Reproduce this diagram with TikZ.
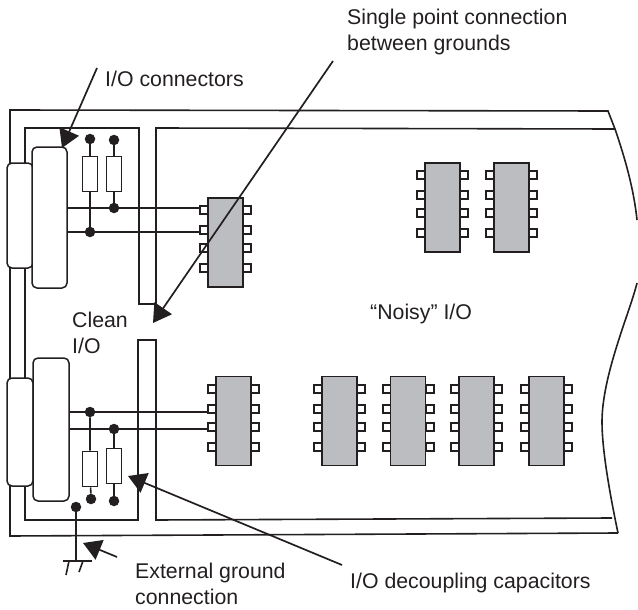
\documentclass[tikz,border=0pt]{standalone}
\usepackage{fontspec}
\setmainfont{Liberation Sans}
\usepackage{xcolor}
\usepackage{tikz}
\usetikzlibrary{arrows.meta, positioning, calc}
\definecolor{inkblack}{RGB}{35, 31, 32}
\definecolor{chipgray}{RGB}{187,189,192}

\begin{document}
\begin{tikzpicture}[
    x=1pt, y=-1pt,
    wire/.style={draw=inkblack, line width=1.6pt},
    pointer/.style={draw=inkblack, line width=1.7pt,
                    -{Triangle[length=18pt, width=21pt, fill=inkblack]}},
    chip/.style={rectangle, draw=inkblack, fill=chipgray, line width=1.9pt,
                 minimum width=35pt, minimum height=89pt, inner sep=0pt},
    pin/.style={rectangle, draw=inkblack, fill=white, line width=2pt,
                minimum size=8pt, inner sep=0pt},
    resistor/.style={rectangle, draw=inkblack, fill=white, line width=1.6pt,
                     minimum width=15pt, minimum height=35pt, inner sep=0pt},
    joint/.style={circle, fill=inkblack, minimum size=10.5pt, inner sep=0pt},
    plugbox/.style={rectangle, rounded corners=5pt, draw=inkblack, fill=white,
                    line width=1.5pt, inner sep=0pt},
    label/.style={font=\fontsize{21.3}{26}\selectfont, color=inkblack,
                  align=left, inner sep=0pt, anchor=north west},
]
\useasboundingbox (0,0) rectangle (638,610);

\draw[wire] (615,129) -- (608,111) -- (10,110) -- (10,536) -- (618,533);
\draw[wire] (615,129) .. controls (625,158) and (634,190) .. (637,220);
\draw[wire] (637,283) .. controls (630,312) and (602,375) .. (602,422)
                      .. controls (602,450) and (610,495) .. (618,533);
\draw[wire] (615,129) -- (156,128) -- (156,304) -- (139,304) -- (139,128)
            -- (25,128) -- (25,520) -- (138,520) -- (138,340) -- (156,340)
            -- (156,520) -- (612,518);

\node[plugbox, minimum width=26pt, minimum height=105pt] (plugAout) at (20,215.5) {};
\node[plugbox, minimum width=35pt, minimum height=141pt] (plugA) at (49.5,217.5) {};
\node[plugbox, minimum width=26pt, minimum height=108pt] (plugBout) at (20,432) {};
\node[plugbox, minimum width=36pt, minimum height=143pt] (plugB) at (51,429.5) {};

\foreach \chipname/\cx/\cy in {chipA/225.5/242.5, chipB/233.5/421, chipC/339.5/421,
    chipD/408/421, chipE/476.5/421, chipF/546.5/421, chipG/442.5/207.5, chipH/511.5/207.5} {
  \foreach \n/\dy in {1/-32.5, 2/-12.5, 3/5.5, 4/25.5} {
    \node[pin] (\chipname-l\n) at (\cx-21.5,\cy+\dy) {};
    \node[pin] (\chipname-r\n) at (\cx+21.5,\cy+\dy) {};
  }
  \node[chip] (\chipname) at (\cx,\cy) {};
}

\node[joint] (dotA1) at (90,139) {};
\node[joint] (dotA2) at (114,140) {};
\node[resistor] (resA1) at (90,174) {};
\node[resistor] (resA2) at (114,174) {};
\node[joint] (dotA3) at (90,232) {};
\node[joint] (dotA4) at (114,208) {};
\draw[wire] (dotA1) -- (resA1) (resA1) -- (dotA3);
\draw[wire] (dotA2) -- (resA2) (resA2) -- (dotA4);
\draw[wire] (plugA.east |- dotA4) -- (dotA4) -- (dotA4 -| chipA-l1.west);
\draw[wire] (plugA.east |- dotA3) -- (dotA3) -- (dotA3 -| chipA-l2.west);

\node[joint] (dotB1) at (90,412) {};
\node[joint] (dotB2) at (114,429) {};
\node[resistor] (resB1) at (90,469) {};
\node[resistor] (resB2) at (114,466) {};
\node[joint] (dotB3) at (91,499) {};
\node[joint] (dotB4) at (114,501) {};
\draw[wire] (dotB1) -- (resB1) (resB1) -- (dotB3);
\draw[wire] (dotB2) -- (resB2) (resB2) -- (dotB4);
\draw[wire] (plugB.east |- dotB1) -- (dotB1) -- (dotB1 -| chipB-l2.west);
\draw[wire] (plugB.east |- dotB2) -- (dotB2) -- (dotB2 -| chipB-l3.west);

\node[joint] (dotgnd) at (76,507) {};
\coordinate (gndbar) at (76,561);
\coordinate (gndleft) at (63,561);
\coordinate (gndright) at (92,561);
\coordinate (tickAtop) at (69,561);
\coordinate (tickAend) at (66,575);
\coordinate (tickBtop) at (83,561);
\coordinate (tickBend) at (79,572);
\draw[wire] (dotgnd) -- (gndbar) (gndleft) -- (gndright);
\draw[wire] (tickAtop) -- (tickAend) (tickBtop) -- (tickBend);

\node[label] (singlelabel) at (347,9) {Single point connection\\between grounds};
\node[label] (connlabel) at (105,71) {I/O connectors};
\node[label] (cleanlabel) at (72,312) {Clean\\I/O};
\node[label] (noisylabel) at (370,304) {“Noisy” I/O};
\node[label] (extlabel) at (135,563) {External ground\\connection};
\node[label] (decouplabel) at (350,573) {I/O decoupling capacitors};

\coordinate (singlefrom) at (333,61);
\coordinate (singletip) at (153,323);
\coordinate (connfrom) at (97,68);
\coordinate (conntip) at (62,148);
\coordinate (decoupfrom) at (342,565);
\coordinate (decouptip) at (128,476);
\coordinate (extfrom) at (117,557);
\coordinate (exttip) at (83,543);
\draw[pointer] (singlefrom) -- (singletip);
\draw[pointer] (connfrom) -- (conntip);
\draw[pointer] (decoupfrom) -- (decouptip);
\draw[pointer] (extfrom) -- (exttip);
\end{tikzpicture}
\end{document}
